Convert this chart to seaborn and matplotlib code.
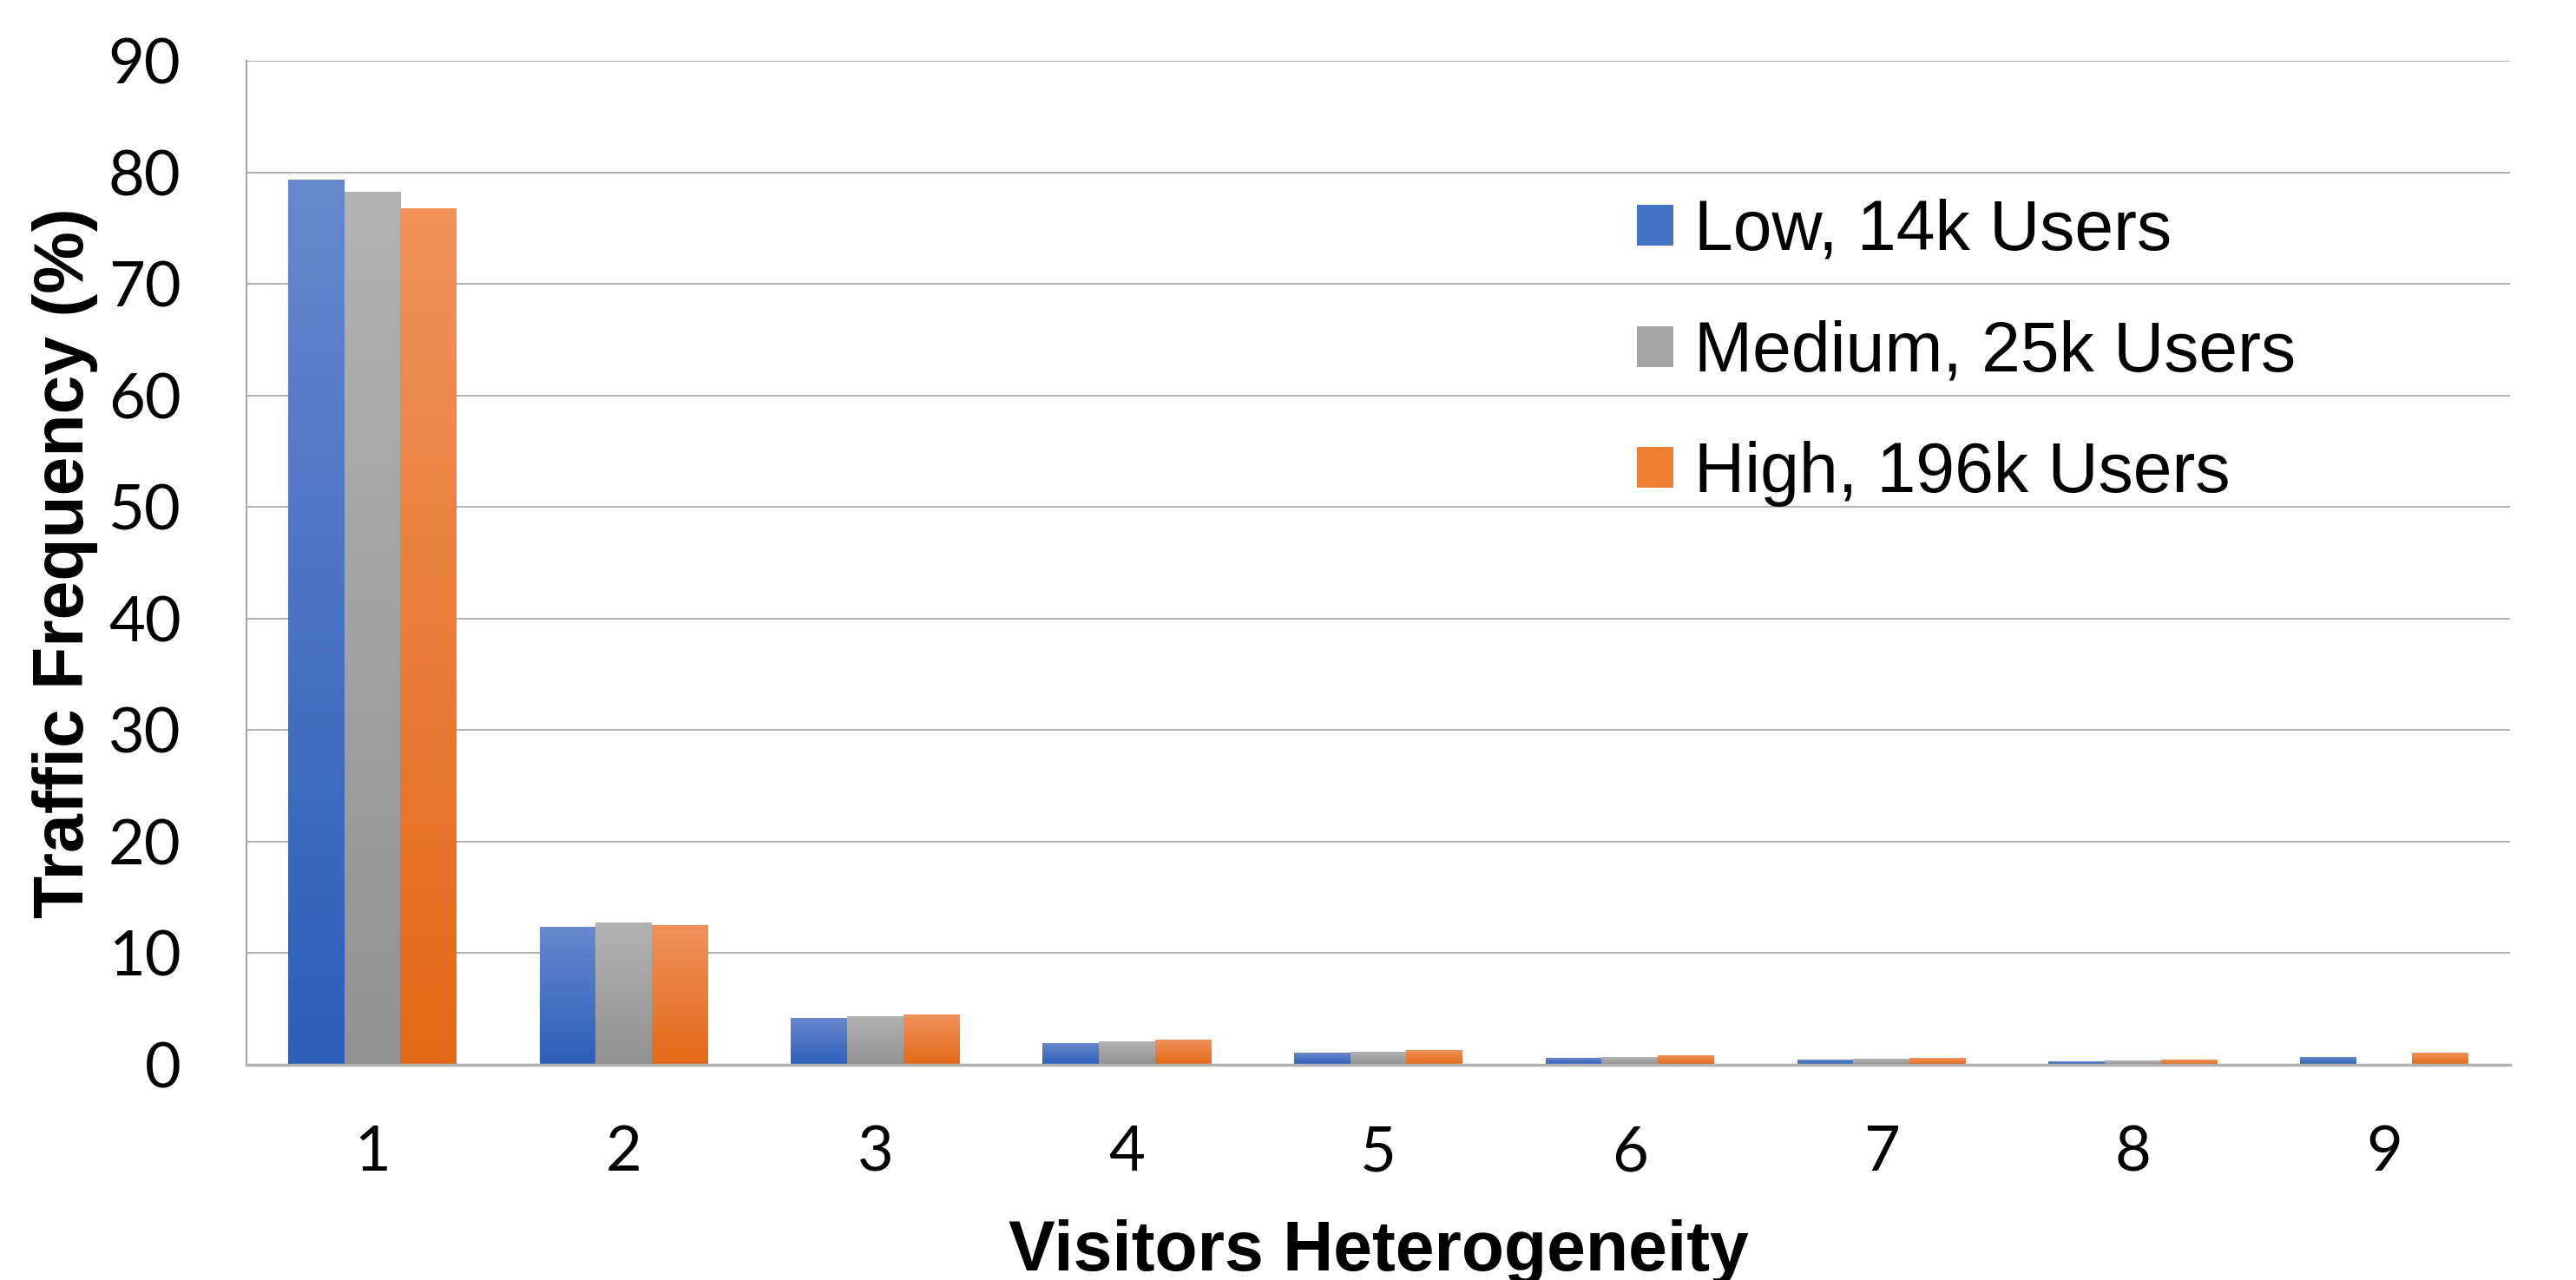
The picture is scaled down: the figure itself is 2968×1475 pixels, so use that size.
import numpy as np
import pandas as pd
import matplotlib
matplotlib.use("Agg")
import matplotlib.pyplot as plt
from matplotlib.colors import LinearSegmentedColormap
import seaborn as sns

# values (percent)
categories = ["1", "2", "3", "4", "5", "6", "7", "8", "9"]
series_names = ["Low, 14k Users", "Medium, 25k Users", "High, 196k Users"]
low = [79.3, 12.3, 4.2, 1.9, 1.05, 0.6, 0.45, 0.3, 0.67]
medium = [78.2, 12.75, 4.35, 2.1, 1.15, 0.67, 0.52, 0.36, 0.03]
high = [76.7, 12.5, 4.5, 2.25, 1.3, 0.83, 0.6, 0.44, 1.06]

# office-style colours: flat for legend, (top, bottom) for bar gradients
flat_colors = ["#4472c4", "#a5a5a5", "#ed7d31"]
grad_colors = [("#6788cd", "#2d5eb9"), ("#b2b2b2", "#929292"), ("#f1915b", "#e26916")]

df = pd.DataFrame({
    "Visitors Heterogeneity": categories * 3,
    "Traffic Frequency (%)": low + medium + high,
    "Series": [s for s in series_names for _ in categories],
})

sns.set_style("white", {"text.color": "black", "axes.labelcolor": "black",
                        "xtick.color": "black", "ytick.color": "black"})
plt.rcParams["font.family"] = ["Liberation Sans", "DejaVu Sans"]

fig = plt.figure(figsize=(29.68, 14.75), dpi=100)
ax = fig.add_axes([0.0957, 0.1681, 0.9744 - 0.0957, 0.9525 - 0.1681])

sns.barplot(data=df, x="Visitors Heterogeneity", y="Traffic Frequency (%)", hue="Series",
            palette=flat_colors, width=0.67, gap=0, saturation=1, linewidth=0,
            errorbar=None, ax=ax, zorder=2)

# vertical gradient on each bar, like the original spreadsheet chart
grad = np.linspace(0, 1, 256).reshape(-1, 1)
for cont, (top, bottom) in zip(ax.containers, grad_colors):
    cmap = LinearSegmentedColormap.from_list("g", [bottom, top])
    for bar in cont:
        x0, w, h = bar.get_x(), bar.get_width(), bar.get_height()
        if h <= 0:
            continue
        ax.imshow(grad, cmap=cmap, origin="lower", aspect="auto",
                  extent=[x0, x0 + w, 0, h], zorder=2.1, interpolation="bilinear")

ax.set_xlim(-0.5, 8.5)
ax.set_ylim(0, 90)
ax.set_yticks(range(0, 91, 10))

ax.grid(axis="y", color="#b3b3b3", linewidth=1.5)
ax.grid(axis="x", visible=False)
ax.set_axisbelow(True)
for s in ["top", "right"]:
    ax.spines[s].set_visible(False)
ax.spines["left"].set_color("#a6a6a6")
ax.spines["left"].set_linewidth(1.5)
ax.spines["bottom"].set_color("#b0b0b0")
ax.spines["bottom"].set_linewidth(2.5)
ax.spines["bottom"].set_zorder(3)

ax.tick_params(axis="y", length=18.5, width=1.5, color="#b3b3b3", labelcolor="black",
               pad=36, labelsize=52)
ax.tick_params(axis="x", length=0, pad=50, labelsize=52, labelcolor="black")
for lab in ax.get_xticklabels() + ax.get_yticklabels():
    lab.set_fontfamily(["Lato", "DejaVu Sans"])

ax.set_xlabel("Visitors Heterogeneity", fontsize=58, fontweight="bold", labelpad=31,
              color="black")
ax.set_ylabel("Traffic Frequency (%)", fontsize=58, fontweight="bold", labelpad=8,
              color="black")

leg = ax.legend(loc="upper left", bbox_to_anchor=(1886 / 2968, 1 - 229 / 1475),
                bbox_transform=fig.transFigure, frameon=False, fontsize=58,
                handlelength=0.52, handleheight=0.52, handletextpad=0.3,
                labelspacing=0.79, borderaxespad=0, borderpad=0)
for t in leg.get_texts():
    t.set_color("black")

fig.savefig("out.png", dpi=100)
